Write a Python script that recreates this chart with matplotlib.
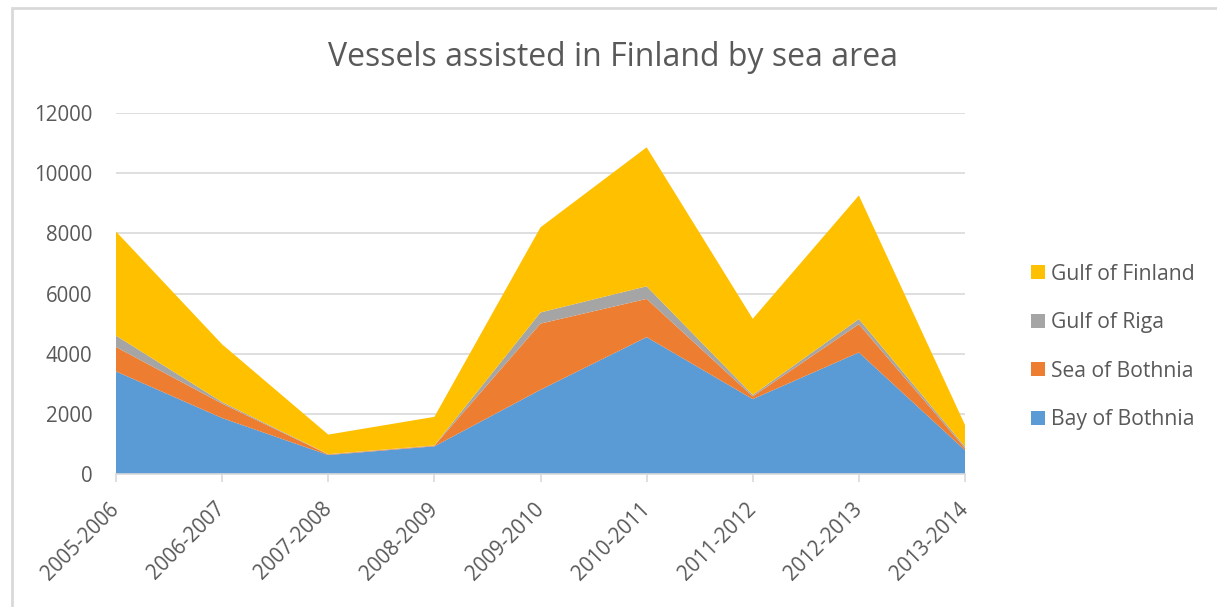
import matplotlib.pyplot as plt
from matplotlib.patches import Rectangle, Patch

seasons = ['2005-2006', '2006-2007', '2007-2008', '2008-2009', '2009-2010',
           '2010-2011', '2011-2012', '2012-2013', '2013-2014']
bay_of_bothnia = [3410, 1860, 630, 920, 2800, 4550, 2490, 4040, 790]
sea_of_bothnia = [810, 480, 20, 20, 2200, 1270, 90, 940, 70]
gulf_of_riga = [380, 50, 10, 10, 370, 420, 50, 170, 50]
gulf_of_finland = [3460, 1920, 650, 950, 2830, 4620, 2530, 4110, 720]

names = ['Bay of Bothnia', 'Sea of Bothnia', 'Gulf of Riga', 'Gulf of Finland']
colors = ['#5B9BD5', '#ED7D31', '#A5A5A5', '#FFC000']
txt = '#595959'

plt.rcParams['font.family'] = ['Open Sans', 'DejaVu Sans']

fig = plt.figure(figsize=(12.17, 6.07), dpi=100)
ax = fig.add_axes([116 / 1217, 1 - 474 / 607, (965 - 116) / 1217, (474 - 113) / 607])

x = range(len(seasons))
ax.stackplot(x, bay_of_bothnia, sea_of_bothnia, gulf_of_riga, gulf_of_finland,
             colors=colors, linewidth=0)

ax.set_xlim(0, len(seasons) - 1)
ax.set_ylim(0, 12000)
ax.set_yticks(range(0, 12001, 2000))
ax.set_xticks(list(x))
ax.set_xticklabels(seasons, rotation=45, ha='right', va='center', rotation_mode='anchor')
ax.grid(axis='y', color='#d9d9d9', linewidth=1.2)
ax.set_axisbelow(True)
for s in ['top', 'right', 'left']:
    ax.spines[s].set_visible(False)
ax.spines['bottom'].set_color('#d9d9d9')
ax.spines['bottom'].set_linewidth(1.2)
ax.tick_params(axis='y', length=0, pad=17, labelsize=14.8, labelcolor=txt)
ax.tick_params(axis='x', length=6, width=1.2, color='#d9d9d9', pad=17,
               labelsize=14.8, labelcolor=txt)

fig.text(613 / 1217, 1 - 57 / 607, 'Vessels assisted in Finland by sea area',
         ha='center', va='center', fontsize=23, color=txt)

handles = [Patch(facecolor=c) for c in colors][::-1]
leg = fig.legend(handles, names[::-1], loc='center left',
                 bbox_to_anchor=(1012 / 1217, 1 - 347 / 607), frameon=False,
                 fontsize=15.2, handlelength=0.65, handleheight=0.65,
                 handletextpad=0.3, labelspacing=1.3)
for t in leg.get_texts():
    t.set_color(txt)

fig.patches.append(Rectangle((12 / 1217, -0.1), 1.2, 1.1 - 8 / 607,
                             transform=fig.transFigure, fill=False,
                             edgecolor='#d9d9d9', linewidth=2))

fig.savefig('out.png', dpi=100)
